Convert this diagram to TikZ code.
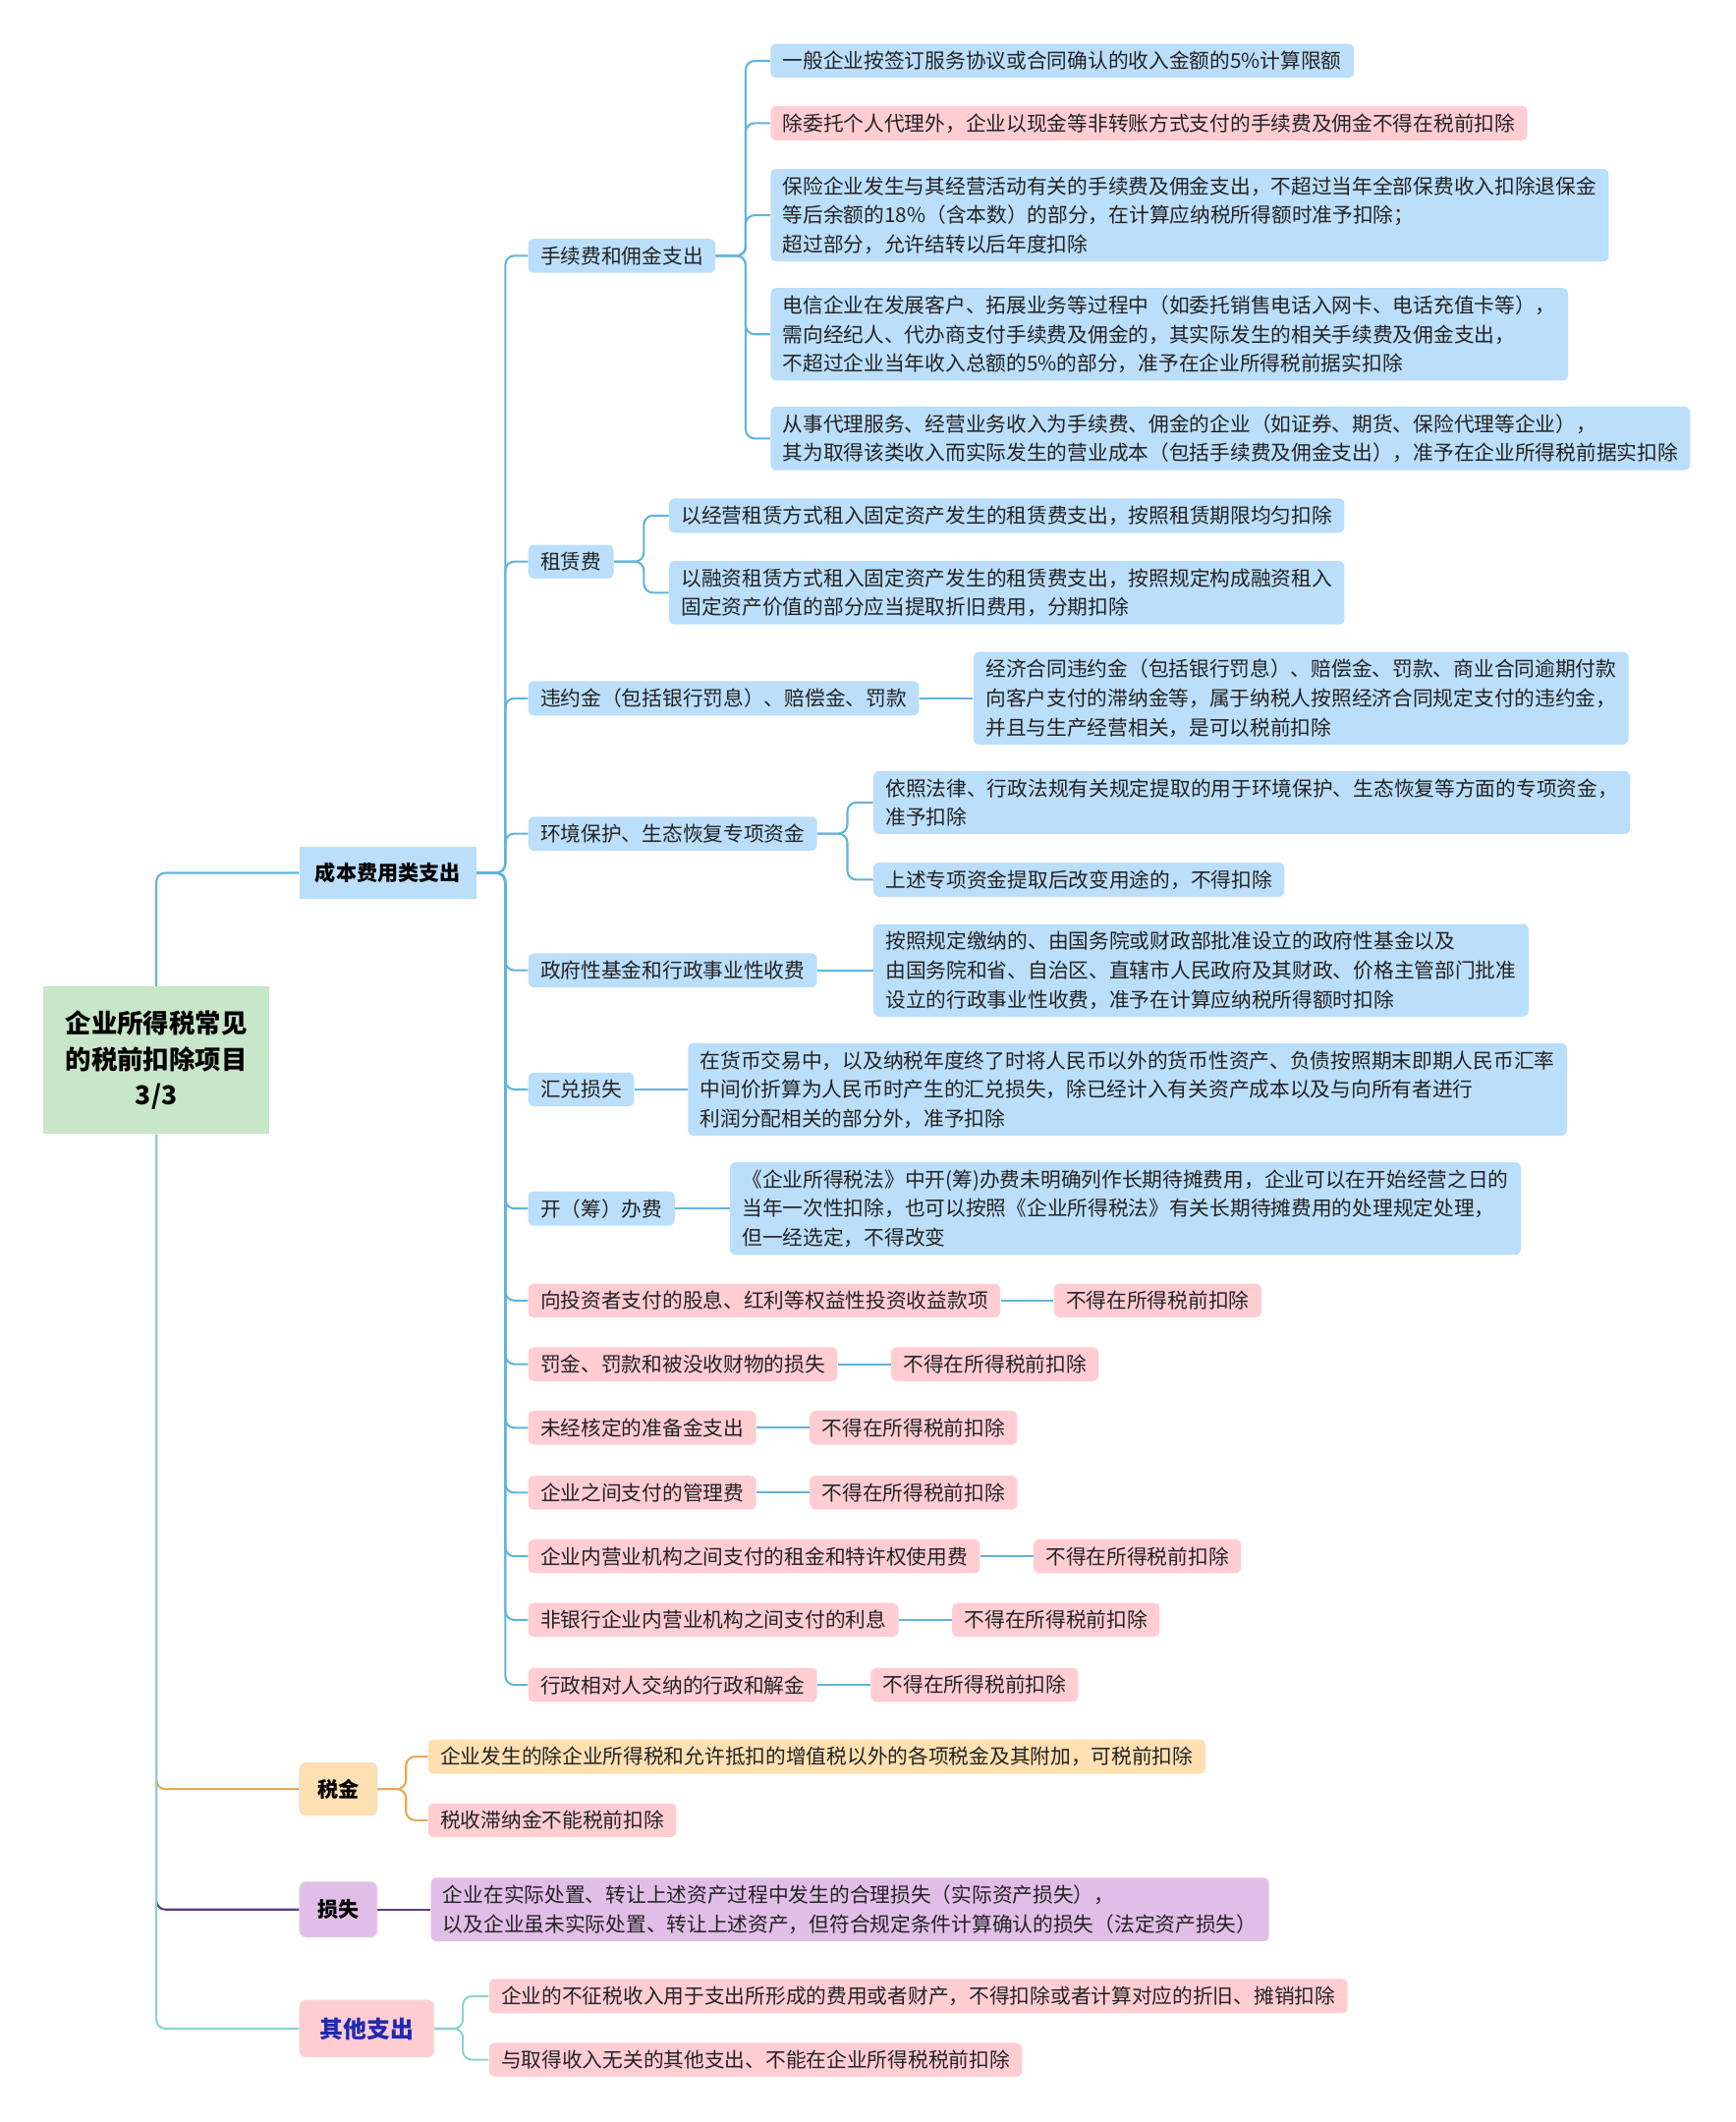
\documentclass[tikz,border=0pt]{standalone}
\usepackage{fontspec}
\setmainfont{Noto Sans CJK SC}
\usetikzlibrary{positioning}

\definecolor{boxblue}{RGB}{187,222,251}
\definecolor{boxpink}{RGB}{255,205,210}
\definecolor{boxorange}{RGB}{255,224,178}
\definecolor{boxpurple}{RGB}{225,190,231}
\definecolor{boxgreen}{RGB}{200,230,201}
\definecolor{lineblue}{RGB}{95,180,220}
\definecolor{lineorange}{RGB}{230,168,85}
\definecolor{linepurple}{RGB}{90,60,130}
\definecolor{lineteal}{RGB}{140,210,210}
\definecolor{txtgray}{RGB}{35,35,35}
\definecolor{txtblue}{RGB}{30,40,180}

\begin{document}
\begin{tikzpicture}[x=0.6pt,y=-0.6pt,
    leaf/.style={anchor=west, align=left, rounded corners=2.5pt, inner xsep=5.4pt, inner ysep=3.3pt,
      text=txtgray, font=\fontsize{9.02pt}{12.9pt}\selectfont},
    bleaf/.style={leaf, fill=boxblue},
    pleaf/.style={leaf, fill=boxpink},
    topic/.style={anchor=west, minimum height=23.4pt, inner xsep=7pt, text=black,
      font=\fontsize{9.2pt}{12pt}\selectfont\bfseries},
    conn/.style={line width=0.9pt, rounded corners=4pt}]
  \useasboundingbox (0,0) rectangle (1282,1568);

  % root and first level
  \node [fill=boxgreen, minimum width=100pt, minimum height=65.4pt, align=center,
    font=\fontsize{11.5pt}{15.9pt}\selectfont\bfseries] (root) at (115.5,783.5)
    {企业所得税常见\\的税前扣除项目\\3/3};
  \node [topic, fill=boxblue] (cost) at (221,645) {成本费用类支出};
  \node [topic, fill=boxorange, draw=boxorange!80!black!40, rounded corners=3pt, inner xsep=8pt] (tax) at (221,1322) {税金};
  \node [topic, fill=boxpurple, draw=boxpurple!80!black!40, rounded corners=3pt, inner xsep=8pt, minimum height=24.6pt] (loss) at (221,1411) {损失};
  \node [topic, fill=boxpink, draw=boxpink!80!black!40, rounded corners=3pt, inner xsep=9pt, minimum height=25.2pt,
    text=txtblue, font=\fontsize{10.4pt}{12pt}\selectfont\bfseries] (other) at (221,1499) {其他支出};

  % second level
  \node [bleaf] (fee) at (390,189) {手续费和佣金支出};
  \node [bleaf] (rent) at (390,415) {租赁费};
  \node [bleaf] (pen) at (390,516) {违约金（包括银行罚息）、赔偿金、罚款};
  \node [bleaf] (env) at (390,616) {环境保护、生态恢复专项资金};
  \node [bleaf] (gov) at (390,717) {政府性基金和行政事业性收费};
  \node [bleaf] (fx) at (390,805) {汇兑损失};
  \node [bleaf] (open) at (390,893) {开（筹）办费};
  \node [pleaf] (n1) at (390,961) {向投资者支付的股息、红利等权益性投资收益款项};
  \node [pleaf] (n2) at (390,1008) {罚金、罚款和被没收财物的损失};
  \node [pleaf] (n3) at (390,1055) {未经核定的准备金支出};
  \node [pleaf] (n4) at (390,1103) {企业之间支付的管理费};
  \node [pleaf] (n5) at (390,1150) {企业内营业机构之间支付的租金和特许权使用费};
  \node [pleaf] (n6) at (390,1197) {非银行企业内营业机构之间支付的利息};
  \node [pleaf] (n7) at (390,1245) {行政相对人交纳的行政和解金};

  % third level
  \node [bleaf] (fee1) at (569,45) {一般企业按签订服务协议或合同确认的收入金额的5\%计算限额};
  \node [pleaf] (fee2) at (569,91) {除委托个人代理外，企业以现金等非转账方式支付的手续费及佣金不得在税前扣除};
  \node [bleaf] (fee3) at (569,159) {保险企业发生与其经营活动有关的手续费及佣金支出，不超过当年全部保费收入扣除退保金\\等后余额的18\%（含本数）的部分，在计算应纳税所得额时准予扣除；\\超过部分，允许结转以后年度扣除};
  \node [bleaf] (fee4) at (569,247) {电信企业在发展客户、拓展业务等过程中（如委托销售电话入网卡、电话充值卡等），\\需向经纪人、代办商支付手续费及佣金的，其实际发生的相关手续费及佣金支出，\\不超过企业当年收入总额的5\%的部分，准予在企业所得税前据实扣除};
  \node [bleaf] (fee5) at (569,324) {从事代理服务、经营业务收入为手续费、佣金的企业（如证券、期货、保险代理等企业），\\其为取得该类收入而实际发生的营业成本（包括手续费及佣金支出），准予在企业所得税前据实扣除};
  \node [bleaf] (rent1) at (494,381) {以经营租赁方式租入固定资产发生的租赁费支出，按照租赁期限均匀扣除};
  \node [bleaf] (rent2) at (494,438) {以融资租赁方式租入固定资产发生的租赁费支出，按照规定构成融资租入\\固定资产价值的部分应当提取折旧费用，分期扣除};
  \node [bleaf] (pen1) at (719,516) {经济合同违约金（包括银行罚息）、赔偿金、罚款、商业合同逾期付款\\向客户支付的滞纳金等，属于纳税人按照经济合同规定支付的违约金，\\并且与生产经营相关，是可以税前扣除};
  \node [bleaf] (env1) at (645,593) {依照法律、行政法规有关规定提取的用于环境保护、生态恢复等方面的专项资金，\\准予扣除};
  \node [bleaf] (env2) at (645,650) {上述专项资金提取后改变用途的，不得扣除};
  \node [bleaf] (gov1) at (645,717) {按照规定缴纳的、由国务院或财政部批准设立的政府性基金以及\\由国务院和省、自治区、直辖市人民政府及其财政、价格主管部门批准\\设立的行政事业性收费，准予在计算应纳税所得额时扣除};
  \node [bleaf] (fx1) at (508,805) {在货币交易中，以及纳税年度终了时将人民币以外的货币性资产、负债按照期末即期人民币汇率\\中间价折算为人民币时产生的汇兑损失，除已经计入有关资产成本以及与向所有者进行\\利润分配相关的部分外，准予扣除};
  \node [bleaf] (open1) at (539,893) {《企业所得税法》中开(筹)办费未明确列作长期待摊费用，企业可以在开始经营之日的\\当年一次性扣除，也可以按照《企业所得税法》有关长期待摊费用的处理规定处理，\\但一经选定，不得改变};
  \node [pleaf, right=23.4pt of n1] (no1) {不得在所得税前扣除};
  \node [pleaf, right=23.4pt of n2] (no2) {不得在所得税前扣除};
  \node [pleaf, right=23.4pt of n3] (no3) {不得在所得税前扣除};
  \node [pleaf, right=23.4pt of n4] (no4) {不得在所得税前扣除};
  \node [pleaf, right=23.4pt of n5] (no5) {不得在所得税前扣除};
  \node [pleaf, right=23.4pt of n6] (no6) {不得在所得税前扣除};
  \node [pleaf, right=23.4pt of n7] (no7) {不得在所得税前扣除};
  \node [leaf, fill=boxorange] (tax1) at (316,1298) {企业发生的除企业所得税和允许抵扣的增值税以外的各项税金及其附加，可税前扣除};
  \node [pleaf] (tax2) at (316,1345) {税收滞纳金不能税前扣除};
  \node [leaf, fill=boxpurple] (loss1) at (318,1411) {企业在实际处置、转让上述资产过程中发生的合理损失（实际资产损失），\\以及企业虽未实际处置、转让上述资产，但符合规定条件计算确认的损失（法定资产损失）};
  \node [pleaf] (oth1) at (361,1475) {企业的不征税收入用于支出所形成的费用或者财产，不得扣除或者计算对应的折旧、摊销扣除};
  \node [pleaf] (oth2) at (361,1522) {与取得收入无关的其他支出、不能在企业所得税税前扣除};

  % connectors
  \draw [conn, lineblue] (root.north) |- (cost.west);
  \draw [conn, lineorange] (root.south) |- (tax.west);
  \draw [conn, linepurple] (root.south) |- (loss.west);
  \draw [conn, lineteal] (root.south) |- (other.west);
  \foreach \c in {fee,rent,pen,env,gov,fx,open,n1,n2,n3,n4,n5,n6,n7}
    \draw [conn, lineblue] (cost.east) -- ++(21,0) |- (\c.west);
  \foreach \c in {fee1,fee2,fee3,fee4,fee5}
    \draw [conn, lineblue] (fee.east) -- ++(22,0) |- (\c.west);
  \foreach \c in {rent1,rent2}
    \draw [conn, lineblue] (rent.east) -- ++(22,0) |- (\c.west);
  \foreach \c in {env1,env2}
    \draw [conn, lineblue] (env.east) -- ++(22,0) |- (\c.west);
  \draw [conn, lineblue] (pen.east) -- (pen1.west);
  \draw [conn, lineblue] (gov.east) -- (gov1.west);
  \draw [conn, lineblue] (fx.east) -- (fx1.west);
  \draw [conn, lineblue] (open.east) -- (open1.west);
  \foreach \i in {1,...,7}
    \draw [conn, lineblue] (n\i.east) -- (no\i.west);
  \foreach \c in {tax1,tax2}
    \draw [conn, lineorange] (tax.east) -- ++(21,0) |- (\c.west);
  \draw [conn, linepurple] (loss.east) -- (loss1.west);
  \foreach \c in {oth1,oth2}
    \draw [conn, lineteal] (other.east) -- ++(21,0) |- (\c.west);
\end{tikzpicture}
\end{document}
